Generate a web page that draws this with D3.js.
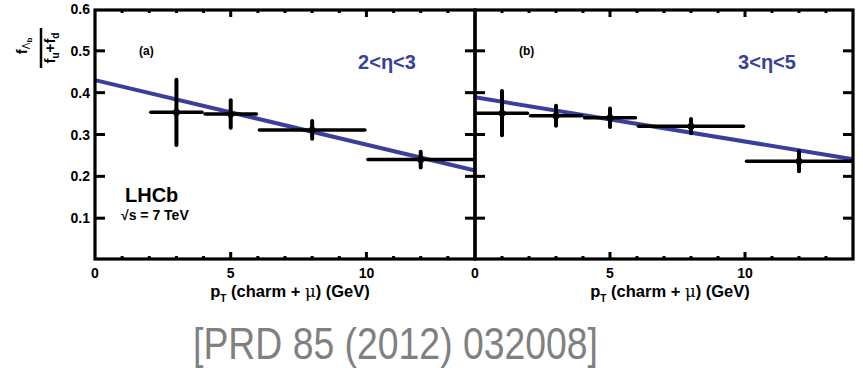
<!DOCTYPE html>
<html>
<head>
<meta charset="utf-8">
<script src="https://cdn.jsdelivr.net/npm/d3@7"></script>
<style>
  html, body { margin: 0; padding: 0; background: #fff; }
  svg { display: block; }
  text { font-family: "Liberation Sans", Arial, Helvetica, sans-serif; }
</style>
</head>
<body>
<svg id="chart" width="863" height="368"></svg>
<script>
// ---- data: Λb fraction vs pT(charm + μ), two η bins ----
const panelNames = ["(a)", "(b)"];
const etaLabels = ["2<η<3", "3<η<5"];

// bin edges (GeV) and measured ratio with uncertainties
const binLoA = [2, 4, 6, 10];
const binHiA = [4, 6, 10, 14];
const centerA = [3, 5, 8, 12];
const valueA = [0.353, 0.349, 0.311, 0.240];
const errA = [0.078, 0.033, 0.021, 0.019];

const binLoB = [0, 2, 4, 6, 10];
const binHiB = [2, 4, 6, 10, 14];
const centerB = [1, 3, 5, 8, 12];
const valueB = [0.351, 0.345, 0.340, 0.320, 0.236];
const errB = [0.053, 0.024, 0.022, 0.017, 0.024];

// linear fits: [value at pT = 0, value at pT = 14]
const fitA = [0.430, 0.214];
const fitB = [0.389, 0.241];

const xTicks = [0, 5, 10];
const yTicks = [0.1, 0.2, 0.3, 0.4, 0.5, 0.6];

const panels = [
  { name: panelNames[0], eta: etaLabels[0], lo: binLoA, hi: binHiA, c: centerA, v: valueA, e: errA, fit: fitA },
  { name: panelNames[1], eta: etaLabels[1], lo: binLoB, hi: binHiB, c: centerB, v: valueB, e: errB, fit: fitB }
];

// ---- layout ----
const svg = d3.select("#chart");
const blue = "#393f9c";
const frameTop = 10, frameBottom = 259;
const panelX = [[95, 475], [475, 853]];
const y = d3.scaleLinear().domain([0, 0.6]).range([260, 9]);

svg.append("rect").attr("width", 863).attr("height", 368).attr("fill", "#fff");

panels.forEach((p, i) => {
  const x = d3.scaleLinear().domain([0, 14]).range(panelX[i]);
  const g = svg.append("g");

  // fit line
  g.append("line")
    .attr("x1", x(0)).attr("y1", y(p.fit[0]))
    .attr("x2", x(14)).attr("y2", y(p.fit[1]))
    .attr("stroke", blue).attr("stroke-width", 4);

  // data points with bin-width bars and vertical errors
  const pts = g.selectAll("g.pt").data(p.c.map((c, k) => ({ c, lo: p.lo[k], hi: p.hi[k], v: p.v[k], e: p.e[k] })))
    .enter().append("g");
  pts.append("line")
    .attr("x1", d => x(d.lo) + 1.5).attr("x2", d => x(d.hi) - 1.5)
    .attr("y1", d => y(d.v)).attr("y2", d => y(d.v))
    .attr("stroke", "#000").attr("stroke-width", 3.5).attr("stroke-linecap", "round");
  pts.append("line")
    .attr("x1", d => x(d.c)).attr("x2", d => x(d.c))
    .attr("y1", d => y(d.v + d.e)).attr("y2", d => y(d.v - d.e))
    .attr("stroke", "#000").attr("stroke-width", 4).attr("stroke-linecap", "round");
  pts.append("circle")
    .attr("cx", d => x(d.c)).attr("cy", d => y(d.v)).attr("r", 3.5).attr("fill", "#000");

  // x ticks: bottom (upward) and top (downward), minor every 1 GeV
  const minor = d3.range(1, 14);
  minor.forEach(t => {
    const len = t % 5 === 0 ? 7 : 3;
    g.append("line").attr("x1", x(t)).attr("x2", x(t))
      .attr("y1", frameBottom).attr("y2", frameBottom - len)
      .attr("stroke", "#000").attr("stroke-width", 3);
    g.append("line").attr("x1", x(t)).attr("x2", x(t))
      .attr("y1", frameTop).attr("y2", frameTop + len)
      .attr("stroke", "#000").attr("stroke-width", 3);
  });

  // y ticks on both side edges, pointing inward
  yTicks.slice(0, 5).forEach(t => {
    g.append("line").attr("x1", x(0)).attr("x2", x(0) + 10)
      .attr("y1", y(t)).attr("y2", y(t)).attr("stroke", "#000").attr("stroke-width", 3);
    g.append("line").attr("x1", x(14)).attr("x2", x(14) - 10)
      .attr("y1", y(t)).attr("y2", y(t)).attr("stroke", "#000").attr("stroke-width", 3);
  });

  // frame
  g.append("rect")
    .attr("x", x(0)).attr("y", frameTop)
    .attr("width", x(14) - x(0)).attr("height", frameBottom - frameTop)
    .attr("fill", "none").attr("stroke", "#000").attr("stroke-width", 3.2);

  // x tick labels
  g.selectAll("text.xt").data(xTicks).enter().append("text")
    .attr("x", d => x(d)).attr("y", 278)
    .attr("text-anchor", "middle").attr("font-size", 14).attr("font-weight", "bold")
    .text(d => d);

  // x axis title
  const xt = g.append("text")
    .attr("x", x(0) + 195).attr("y", 297)
    .attr("text-anchor", "middle").attr("font-size", 16.5).attr("font-weight", "bold");
  xt.append("tspan").text("p");
  xt.append("tspan").attr("font-size", 10).attr("dy", 5).text("T");
  xt.append("tspan").attr("dy", -5).text(" (charm + ");
  xt.append("tspan").attr("font-weight", "normal").attr("font-family", "'DejaVu Serif', serif").text("μ");
  xt.append("tspan").text(") (GeV)");

  // panel tag and η range
  g.append("text").attr("x", x(0) + 44).attr("y", 55)
    .attr("font-size", 12).attr("font-weight", "bold").text(p.name);
  g.append("text").attr("x", x(0) + 292).attr("y", 69)
    .attr("text-anchor", "middle").attr("font-size", 20).attr("font-weight", "bold")
    .attr("fill", blue).text(p.eta);
});

// y tick labels (left panel only)
svg.selectAll("text.yt").data(yTicks).enter().append("text")
  .attr("x", 90).attr("y", d => y(d) + 5)
  .attr("text-anchor", "end").attr("font-size", 14).attr("font-weight", "bold")
  .text(d => d3.format(".1f")(d));

// y axis title: fΛb / (fu + fd), rotated
const yt = svg.append("g").attr("transform", "translate(42,48) rotate(-90)");
const num = yt.append("text").attr("x", 2).attr("y", -15)
  .attr("text-anchor", "middle").attr("font-size", 15).attr("font-weight", "bold");
num.append("tspan").text("f");
num.append("tspan").attr("font-size", 10).attr("font-weight", "normal").attr("dy", 3).text("Λ");
num.append("tspan").attr("font-size", 8).attr("dy", 2).text("b");
yt.append("line").attr("x1", -20).attr("x2", 20).attr("y1", -1).attr("y2", -1)
  .attr("stroke", "#000").attr("stroke-width", 2.5);
const den = yt.append("text").attr("x", 0).attr("y", 13)
  .attr("text-anchor", "middle").attr("font-size", 15).attr("font-weight", "bold");
den.append("tspan").text("f");
den.append("tspan").attr("font-size", 10).attr("dy", 4).text("u");
den.append("tspan").attr("dy", -4).text("+f");
den.append("tspan").attr("font-size", 10).attr("dy", 4).text("d");

// experiment label
svg.append("text").attr("x", 125).attr("y", 202)
  .attr("font-size", 20).attr("font-weight", "bold").text("LHCb");
svg.append("text").attr("x", 121).attr("y", 220)
  .attr("font-size", 14).attr("font-weight", "bold").text("√s = 7 TeV");

// reference
svg.append("text").attr("x", 193).attr("y", 359)
  .attr("font-size", 44).attr("fill", "#808080")
  .attr("textLength", 405).attr("lengthAdjust", "spacingAndGlyphs")
  .text("[PRD 85 (2012) 032008]");
</script>
</body>
</html>
